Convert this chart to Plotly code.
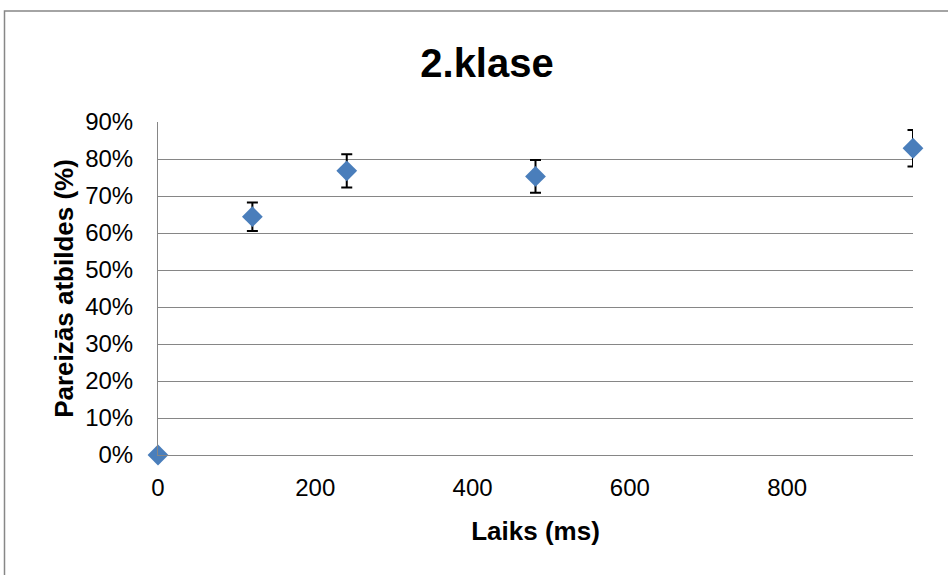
import plotly.graph_objects as go

# Data
time_ms = [0, 120, 240, 480, 960]
correct = [0.0, 0.644, 0.768, 0.753, 0.829]
error = [0.0, 0.0385, 0.045, 0.044, 0.0495]

title_text = "2.klase"
x_title = "Laiks (ms)"
y_title = "Pareizās atbildes (%)"
x_ticks = [0, 200, 400, 600, 800]
y_ticks = [0, 0.1, 0.2, 0.3, 0.4, 0.5, 0.6, 0.7, 0.8, 0.9]

FONT = "Liberation Sans, Arial, sans-serif"
GRID = "#868686"

W, H = 948, 575
L, R, T, B = 158, 35, 122, 120
pw, ph = W - L - R, H - T - B

fig = go.Figure()
fig.add_trace(go.Scatter(
    x=time_ms, y=correct, mode="markers",
    marker=dict(symbol="diamond", size=16, color="#4A7EBB", line=dict(width=0)),
    error_y=dict(type="data", array=error, visible=True, color="black",
                 thickness=2, width=5.5),
    cliponaxis=False, showlegend=False,
))

fig.update_layout(
    width=W, height=H,
    margin=dict(l=L, r=R, t=T, b=B),
    paper_bgcolor="white", plot_bgcolor="white",
    font=dict(family=FONT, color="black"),
    title=dict(text=f"<b>{title_text}</b>", x=487/W, xanchor="center",
               y=1-63/H, yanchor="middle", yref="container",
               font=dict(size=40, family=FONT, color="black")),
    xaxis=dict(range=[0, 960], tickvals=x_ticks, showgrid=False,
               zeroline=False, showline=True, linecolor=GRID, linewidth=1,
               ticks="", ticklabelstandoff=11,
               tickfont=dict(size=24, family=FONT, color="black"),
               title=dict(text=f"<b>{x_title}</b>", standoff=22,
                          font=dict(size=26, family=FONT, color="black"))),
    yaxis=dict(range=[0, 0.9], tickvals=y_ticks, tickformat=".0%",
               showgrid=True, gridcolor=GRID, gridwidth=1,
               zeroline=False, showline=True, linecolor=GRID, linewidth=1,
               ticks="", ticklabelstandoff=19,
               tickfont=dict(size=24, family=FONT, color="black"),
               title=dict(text=f"<b>{y_title}</b>", standoff=4,
                          font=dict(size=26, family=FONT, color="black"))),
    shapes=[dict(type="rect", xref="paper", yref="paper",
                 x0=(4.5 - L)/pw, x1=1.2, y0=-0.5, y1=(T + ph - 11)/ph,
                 line=dict(color="#878787", width=1.5), layer="below")],
)

fig.write_html(
    "out.html",
    config={"displayModeBar": False},
    post_script="document.body.style.margin='0';document.body.style.overflow='hidden';",
)
